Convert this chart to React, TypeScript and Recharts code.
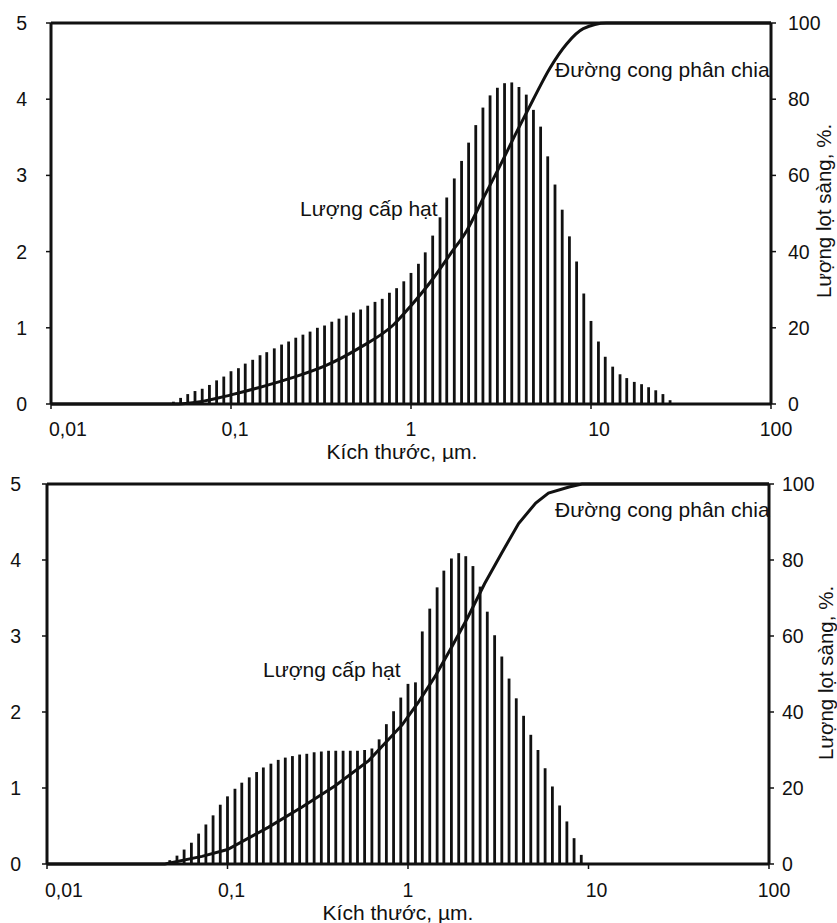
import { Bar, ComposedChart, Line, ReferenceLine, XAxis, YAxis } from "recharts";

// Bin centres of the particle sizer, µm (25 bins per decade, 0.048 … 27.5)
const SIZES = [
  0.0479, 0.0525, 0.0575, 0.0631, 0.0692, 0.0759, 0.0832, 0.0912,
  0.1, 0.11, 0.12, 0.132, 0.145, 0.158, 0.174, 0.191, 0.209, 0.229,
  0.251, 0.275, 0.302, 0.331, 0.363, 0.398, 0.437, 0.479, 0.525, 0.575,
  0.631, 0.692, 0.759, 0.832, 0.912,
  1.0, 1.1, 1.2, 1.32, 1.45, 1.58, 1.74, 1.91, 2.09, 2.29,
  2.51, 2.75, 3.02, 3.31, 3.63, 3.98, 4.37, 4.79, 5.25, 5.75,
  6.31, 6.92, 7.59, 8.32, 9.12, 10, 11.0, 12.0, 13.2, 14.5,
  15.8, 17.4, 19.1, 20.9, 22.9, 25.1, 27.5,
];

// Lượng cấp hạt (per-bin amount), upper sample
const TOP_AMOUNT = [
  0.03, 0.08, 0.13, 0.17, 0.2, 0.25, 0.31, 0.36,
  0.43, 0.47, 0.53, 0.58, 0.64, 0.68, 0.73, 0.78, 0.82, 0.87,
  0.91, 0.95, 1.0, 1.03, 1.08, 1.12, 1.16, 1.2, 1.24, 1.29,
  1.34, 1.38, 1.46, 1.52, 1.61,
  1.72, 1.84, 1.99, 2.21, 2.45, 2.71, 2.96, 3.19, 3.43, 3.66,
  3.89, 4.05, 4.15, 4.21, 4.22, 4.16, 4.06, 3.86, 3.64, 3.25,
  2.88, 2.55, 2.2, 1.87, 1.45, 1.09, 0.82, 0.62, 0.49, 0.39,
  0.34, 0.29, 0.26, 0.22, 0.18, 0.13, 0.05,
];

// Lượng cấp hạt, lower sample (no material above ~9 µm)
const BOTTOM_AMOUNT = [
  0.05, 0.11, 0.19, 0.28, 0.4, 0.52, 0.64, 0.78,
  0.89, 0.99, 1.07, 1.14, 1.21, 1.27, 1.32, 1.37, 1.4, 1.42,
  1.44, 1.45, 1.47, 1.48, 1.49, 1.49, 1.49, 1.49, 1.49, 1.5,
  1.52, 1.64, 1.84, 2.01, 2.19,
  2.37, 2.39, 3.06, 3.36, 3.64, 3.86, 4.02, 4.09, 4.05, 3.92,
  3.65, 3.32, 3.01, 2.73, 2.44, 2.18, 1.95, 1.7, 1.5, 1.26,
  1.02, 0.77, 0.56, 0.34, 0.12,
];

// Đường cong phân chia (cumulative passing, %)
const TOP_CURVE_SIZE = [
  0.01, 0.0476, 0.0673, 0.1, 0.158, 0.222, 0.34, 0.52, 0.8, 1.0,
  1.33, 1.65, 2.04, 2.52, 3.12, 3.87, 4.76, 5.92, 7.32, 9.06, 12.2, 100,
];
const TOP_CURVE_PASS = [
  0, 0, 0.6, 2.4, 4.9, 7.0, 10.2, 14.8, 20.8, 25.8,
  33, 39.3, 45.5, 54, 62.5, 71.5, 79.8, 88.2, 94.5, 98.5, 100, 100,
];

const BOTTOM_CURVE_SIZE = [
  0.01, 0.045, 0.0722, 0.1, 0.169, 0.259, 0.395, 0.606, 0.928, 1.14,
  1.41, 1.75, 2.15, 2.66, 3.3, 4.1, 5.1, 6.0, 7.8, 9.2, 100,
];
const BOTTOM_CURVE_PASS = [
  0, 0, 2, 3.8, 9.7, 15, 20.6, 27.2, 36.6, 42.5,
  49.3, 57.2, 65, 73.8, 81.8, 89.6, 95, 97.6, 99.2, 100, 100,
];

const X_TICKS = [0.01, 0.1, 1, 10, 100];
const X_TICK_LABELS = ["0,01", "0,1", "1", "10", "100"];
const X_TICK_SHIFT = [17, 4, 0, 8, 5];
const LEFT_TICKS = [0, 1, 2, 3, 4, 5];
const RIGHT_TICKS = [0, 20, 40, 60, 80, 100];

const FONT = '"Liberation Sans", Arial, Helvetica, sans-serif';
const INK = "#111";
const WIDTH = 837;

function XTick({ x, y, payload }: any) {
  const i = X_TICKS.indexOf(payload.value);
  return (
    <text
      x={x + (X_TICK_SHIFT[i] ?? 0)}
      y={y}
      dy="0.71em"
      textAnchor="middle"
      fontSize={19.5}
      fontFamily={FONT}
      fill={INK}
    >
      {X_TICK_LABELS[i]}
    </text>
  );
}

// histogram bins are drawn as thin solid sticks centred on the bin size
function Stick({ x, y, width, height }: any) {
  if (!height || height <= 0) return null;
  const cx = x + width / 2;
  return <rect x={cx - 1.4} y={y} width={2.8} height={height} fill={INK} />;
}

interface PanelProps {
  amounts: number[];
  curveSize: number[];
  curvePass: number[];
  curveType: "monotone" | "linear";
  height: number;
  box: { left: number; right: number; top: number; bottom: number };
  gaps: { x: number; left: number; right: number };
  grainAt: [number, number];
  curveAt: [number, number];
  axisLabelAt: [number, number];
  sideLabelAt: [number, number];
}

function Panel(p: PanelProps) {
  const bars = p.amounts.map((amount, i) => ({ size: SIZES[i], amount }));
  const curve = p.curveSize.map((size, i) => ({ size, pass: p.curvePass[i] }));
  const tickStyle = { fill: INK, fontSize: 19.5, fontFamily: FONT };
  const axisLine = { stroke: INK, strokeWidth: 3 };
  const tickLine = { stroke: INK, strokeWidth: 1.5 };
  const [sx, sy] = p.sideLabelAt;

  return (
    <ComposedChart
      width={WIDTH}
      height={p.height}
      data={bars}
      margin={{ top: p.box.top, right: 0, bottom: 0, left: 0 }}
    >
      <XAxis
        dataKey="size"
        type="number"
        scale="log"
        domain={[0.01, 100]}
        ticks={X_TICKS}
        interval={0}
        height={p.height - p.box.bottom}
        tick={<XTick />}
        tickSize={5}
        tickMargin={p.gaps.x}
        axisLine={axisLine}
        tickLine={tickLine}
      />
      <YAxis
        yAxisId="amount"
        domain={[0, 5]}
        ticks={LEFT_TICKS}
        interval={0}
        width={p.box.left}
        tick={tickStyle}
        tickSize={5}
        tickMargin={p.gaps.left}
        axisLine={axisLine}
        tickLine={tickLine}
      />
      <YAxis
        yAxisId="pass"
        orientation="right"
        domain={[0, 100]}
        ticks={RIGHT_TICKS}
        interval={0}
        width={WIDTH - p.box.right}
        tick={{ ...tickStyle, textAnchor: "start" }}
        tickSize={5}
        tickMargin={p.gaps.right}
        axisLine={axisLine}
        tickLine={tickLine}
      />
      <ReferenceLine yAxisId="amount" y={5} stroke={INK} strokeWidth={3} />
      <Bar
        yAxisId="amount"
        dataKey="amount"
        barSize={3}
        fill={INK}
        shape={(props: any) => <Stick {...props} />}
        isAnimationActive={false}
      />
      <Line
        yAxisId="pass"
        data={curve}
        dataKey="pass"
        type={p.curveType}
        stroke={INK}
        strokeWidth={3}
        dot={false}
        isAnimationActive={false}
      />
      <text x={p.grainAt[0]} y={p.grainAt[1]} fontSize={21} fontFamily={FONT} fill={INK}>
        Lượng cấp hạt
      </text>
      <text x={p.curveAt[0]} y={p.curveAt[1]} fontSize={21} fontFamily={FONT} fill={INK}>
        Đường cong phân chia
      </text>
      <text
        x={p.axisLabelAt[0]}
        y={p.axisLabelAt[1]}
        textAnchor="middle"
        fontSize={21}
        fontFamily={FONT}
        fill={INK}
      >
        Kích thước, µm.
      </text>
      <text
        x={sx}
        y={sy}
        textAnchor="middle"
        dominantBaseline="central"
        transform={`rotate(-90, ${sx}, ${sy})`}
        fontSize={20.5}
        fontFamily={FONT}
        fill={INK}
      >
        Lượng lọt sàng, %.
      </text>
    </ComposedChart>
  );
}

export default function App() {
  return (
    <div
      style={{
        position: "absolute",
        left: 0,
        top: 0,
        width: WIDTH,
        height: 923,
        background: "#fff",
        fontFamily: FONT,
      }}
    >
      <Panel
        amounts={TOP_AMOUNT}
        curveSize={TOP_CURVE_SIZE}
        curvePass={TOP_CURVE_PASS}
        curveType="monotone"
        height={462}
        box={{ left: 51, right: 771, top: 23, bottom: 404 }}
        gaps={{ x: 13, left: 19, right: 12 }}
        grainAt={[300, 216]}
        curveAt={[555, 77]}
        axisLabelAt={[402, 459]}
        sideLabelAt={[823, 211]}
      />
      <Panel
        amounts={BOTTOM_AMOUNT}
        curveSize={BOTTOM_CURVE_SIZE}
        curvePass={BOTTOM_CURVE_PASS}
        curveType="linear"
        height={461}
        box={{ left: 47, right: 769, top: 22, bottom: 402 }}
        gaps={{ x: 14, left: 21, right: 8 }}
        grainAt={[263, 215]}
        curveAt={[555, 55]}
        axisLabelAt={[398, 458]}
        sideLabelAt={[825, 211]}
      />
    </div>
  );
}
